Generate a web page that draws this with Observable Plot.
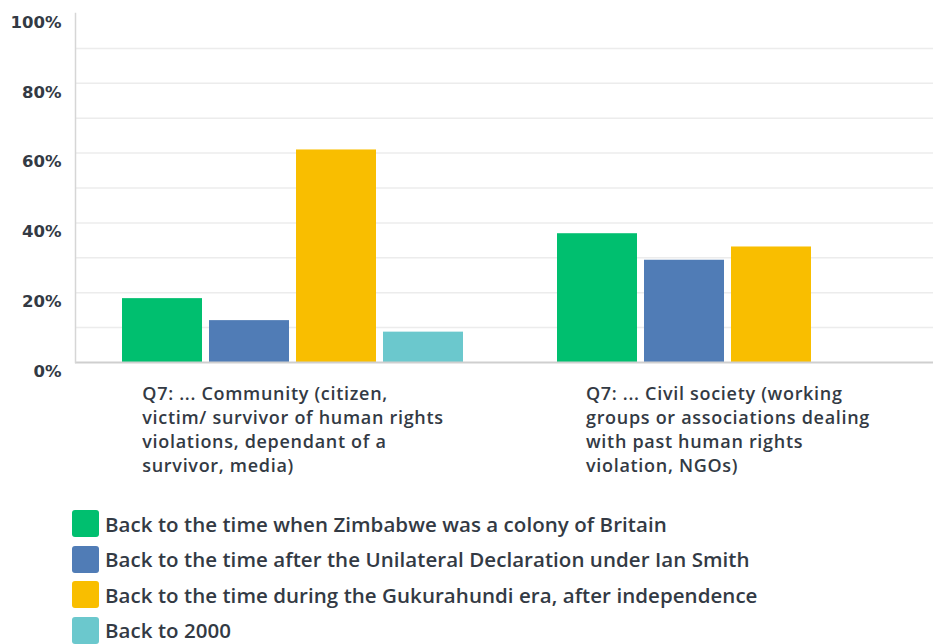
<!DOCTYPE html>
<html>
<head>
<meta charset="utf-8">
<script src="https://cdn.jsdelivr.net/npm/d3@7"></script>
<script src="https://cdn.jsdelivr.net/npm/@observablehq/plot@0.6"></script>
<style>
  html, body { margin: 0; padding: 0; background: #fff; overflow: hidden; }
  body { width: 933px; height: 644px; font-family: "Open Sans", Roboto, sans-serif; }
  #chart svg { max-width: none !important; display: block; }
  #legend { margin-left: 72px; padding-top: 6px; }
  .row { display: flex; align-items: center; height: 35.6px; }
  .sw { width: 27px; height: 27px; border-radius: 3px; margin-right: 6px; flex: none; }
  .lab { font-size: 20.5px; line-height: 1; font-weight: 600; color: #333a44; white-space: nowrap; letter-spacing: 0.05px; }
</style>
</head>
<body>
<div id="chart"></div>
<div id="legend"></div>
<script>
const categories = [
  "Q7: ... Community (citizen,\nvictim/ survivor of human rights\nviolations, dependant of a\nsurvivor, media)",
  "Q7: ... Civil society (working\ngroups or associations dealing\nwith past human rights\nviolation, NGOs)"
];
const seriesNames = [
  "Back to the time when Zimbabwe was a colony of Britain",
  "Back to the time after the Unilateral Declaration under Ian Smith",
  "Back to the time during the Gukurahundi era, after independence",
  "Back to 2000"
];
const seriesColors = ["#00bf6f", "#507cb6", "#f9be00", "#6bc8cd"];
const communityValues = [18.3, 12.0, 60.9, 8.7];
const civilSocietyValues = [36.9, 29.3, 33.1, 0];
const yTickLabels = [0, 20, 40, 60, 80, 100];
const gridValues = [10, 20, 30, 40, 50, 60, 70, 80, 90];

const valuesByCategory = [communityValues, civilSocietyValues];
const data = [];
categories.forEach((c, i) => {
  seriesNames.forEach((s, j) => {
    data.push({category: c, series: s, value: valuesByCategory[i][j]});
  });
});

const chart = Plot.plot({
  width: 945,
  height: 500,
  marginLeft: 75,
  marginRight: 0,
  marginTop: 13,
  marginBottom: 138,
  style: {fontFamily: "'Open Sans', sans-serif", background: "transparent", maxWidth: "none"},
  fx: {domain: categories, padding: 0, axis: null},
  x: {domain: seriesNames, paddingInner: 0.08, paddingOuter: 0.53, axis: null},
  y: {domain: [0, 100], axis: null},
  color: {domain: seriesNames, range: seriesColors},
  marks: [
    Plot.ruleY(gridValues, {stroke: "#ececec", strokeWidth: 1.5}),
    Plot.barY(data.filter(d => d.value > 0), {fx: "category", x: "series", y: "value", fill: "series"}),
    Plot.ruleY([0], {stroke: "#cfcfcf", strokeWidth: 2}),
    Plot.frame({anchor: "left", facetAnchor: "left", stroke: "#d6d6d6", strokeWidth: 1.5}),
    Plot.axisY(yTickLabels, {
      label: null,
      tickSize: 0, tickPadding: 14, dy: 9,
      tickFormat: d => d + "%",
      fontFamily: "'DejaVu Sans', sans-serif",
      fontSize: 16.5, fontWeight: 700, fill: "#333a44"
    }),
    Plot.text(categories, {
      fx: d => d, x: null, y: null, text: d => d,
      frameAnchor: "bottom", lineAnchor: "top", dy: 20,
      textAnchor: "start", lineHeight: 1.333,
      fontSize: 18, fontWeight: 600, fill: "#333a44",
      className: "catlabel"
    })
  ]
});
chart.style.maxWidth = "none";
document.getElementById("chart").appendChild(chart);

// center each category label block on its group while keeping lines left-aligned
chart.querySelectorAll(".catlabel text").forEach(t => {
  t.style.letterSpacing = "0.7px";
  const w = t.getBBox().width;
  const tspans = t.querySelectorAll("tspan");
  if (tspans.length) tspans.forEach(ts => ts.setAttribute("x", -w / 2));
  else t.setAttribute("x", -w / 2);
});

const legend = document.getElementById("legend");
seriesNames.forEach((s, i) => {
  const row = document.createElement("div");
  row.className = "row";
  const sw = document.createElement("div");
  sw.className = "sw";
  sw.style.background = seriesColors[i];
  const lab = document.createElement("span");
  lab.className = "lab";
  lab.textContent = s;
  row.appendChild(sw);
  row.appendChild(lab);
  legend.appendChild(row);
});
</script>
</body>
</html>
